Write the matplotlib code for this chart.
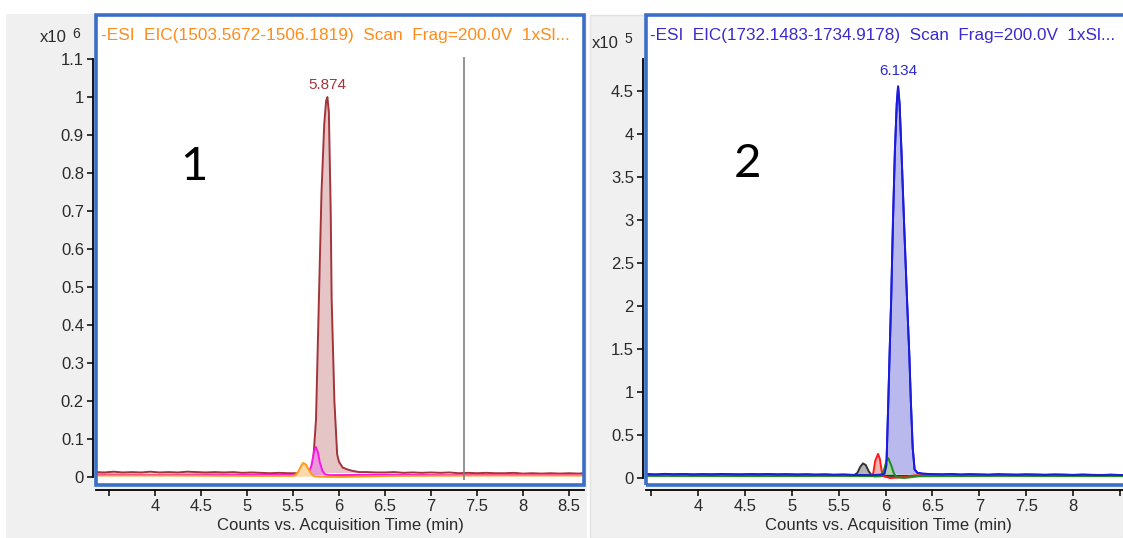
import matplotlib.pyplot as plt
from matplotlib.patches import Rectangle

plt.rcParams['font.family'] = ['Liberation Sans', 'DejaVu Sans']

# ---- panel 1: EIC 1503.5672-1506.1819 (x10^6 counts) ----
p1_title = "-ESI  EIC(1503.5672-1506.1819)  Scan  Frag=200.0V  1xSl..."
p1_peak_rt = 5.874
p1_peak_height = 1.0
p1_marker_rt = 7.36

brown_t = [3.36, 3.45, 3.55, 3.65, 3.75, 3.85, 3.95, 4.05, 4.15, 4.25, 4.35, 4.45,
           4.55, 4.65, 4.75, 4.85, 4.95, 5.05, 5.15, 5.25, 5.35, 5.45, 5.55, 5.62,
           5.67, 5.70, 5.72, 5.75, 5.78, 5.81, 5.84, 5.86, p1_peak_rt, 5.89, 5.91,
           5.92, 5.95, 5.98, 6.00, 6.04, 6.09, 6.15, 6.22, 6.30, 6.40, 6.50, 6.60,
           6.70, 6.80, 6.90, 7.00, 7.10, 7.20, 7.30, 7.40, 7.50, 7.60, 7.70, 7.80,
           7.90, 8.00, 8.10, 8.20, 8.30, 8.40, 8.50, 8.60, 8.66]
brown_y = [0.013, 0.012, 0.014, 0.012, 0.013, 0.012, 0.014, 0.012, 0.013, 0.012, 0.014, 0.013,
           0.012, 0.013, 0.012, 0.013, 0.011, 0.012, 0.011, 0.010, 0.011, 0.010, 0.010, 0.011,
           0.012, 0.020, 0.045, 0.150, 0.450, 0.750, 0.930, 0.990, p1_peak_height, 0.960, 0.700,
           0.470, 0.200, 0.060, 0.040, 0.025, 0.020, 0.016, 0.013, 0.013, 0.012, 0.012, 0.013,
           0.011, 0.012, 0.011, 0.012, 0.011, 0.012, 0.010, 0.011, 0.010, 0.011, 0.010, 0.010,
           0.011, 0.009, 0.010, 0.009, 0.010, 0.009, 0.010, 0.009, 0.010]
brown_int = (5.67, 6.22)

magenta_t = [3.36, 4.0, 4.6, 5.2, 5.60, 5.66, 5.70, 5.73, 5.75, 5.77, 5.79, 5.82,
             5.85, 5.90, 6.5, 7.2, 8.0, 8.66]
magenta_y = [0.007, 0.006, 0.007, 0.006, 0.005, 0.006, 0.030, 0.068, 0.079, 0.066, 0.040, 0.016,
             0.007, 0.005, 0.006, 0.005, 0.006, 0.005]
magenta_int = (5.66, 5.87)

orange_t = [3.36, 4.2, 5.0, 5.50, 5.53, 5.56, 5.59, 5.61, 5.64, 5.67, 5.70, 5.73,
            5.8, 6.0, 6.2, 6.6, 7.5, 8.66]
orange_y = [0.004, 0.004, 0.003, 0.003, 0.006, 0.015, 0.030, 0.037, 0.033, 0.020, 0.008, 0.002,
            0.001, 0.000, 0.001, 0.003, 0.004, 0.004]
orange_int = (5.50, 5.73)

p1_yticks = [0, 0.1, 0.2, 0.3, 0.4, 0.5, 0.6, 0.7, 0.8, 0.9, 1.0, 1.1]
p1_ylabels = ['0', '0.1', '0.2', '0.3', '0.4', '0.5', '0.6', '0.7', '0.8', '0.9', '1', '1.1']
p1_xticks = [3.5, 4, 4.5, 5, 5.5, 6, 6.5, 7, 7.5, 8, 8.5]
p1_xlabels = ['', '4', '4.5', '5', '5.5', '6', '6.5', '7', '7.5', '8', '8.5']

# ---- panel 2: EIC 1732.1483-1734.9178 (x10^5 counts) ----
p2_title = "-ESI  EIC(1732.1483-1734.9178)  Scan  Frag=200.0V  1xSl..."
p2_peak_rt = 6.134
p2_peak_height = 4.55

blue_t = [3.45, 3.55, 3.65, 3.75, 3.85, 3.95, 4.05, 4.15, 4.25, 4.35, 4.45, 4.55,
          4.65, 4.75, 4.85, 4.95, 5.05, 5.15, 5.25, 5.35, 5.45, 5.55, 5.65, 5.75,
          5.85, 5.95, 5.99, 6.01, 6.03, 6.045, 6.06, 6.08, 6.10, 6.12, p2_peak_rt,
          6.15, 6.17, 6.20, 6.23, 6.255, 6.27, 6.29, 6.31, 6.34, 6.40, 6.50, 6.60,
          6.70, 6.80, 6.90, 7.00, 7.10, 7.20, 7.30, 7.40, 7.50, 7.60, 7.70, 7.80,
          7.90, 8.00, 8.10, 8.20, 8.30, 8.40, 8.50, 8.61]
blue_y = [0.045, 0.040, 0.048, 0.042, 0.046, 0.040, 0.044, 0.041, 0.047, 0.043, 0.040, 0.045,
          0.042, 0.046, 0.040, 0.043, 0.039, 0.042, 0.038, 0.041, 0.037, 0.040, 0.036, 0.035,
          0.033, 0.040, 0.050, 0.150, 0.900, 1.500, 2.060, 3.000, 3.800, 4.350, p2_peak_height,
          4.350, 3.800, 2.900, 2.060, 1.400, 0.900, 0.350, 0.100, 0.060, 0.050, 0.045, 0.042,
          0.046, 0.040, 0.044, 0.041, 0.038, 0.043, 0.040, 0.037, 0.041, 0.039, 0.036, 0.040,
          0.038, 0.035, 0.039, 0.036, 0.034, 0.038, 0.035, 0.036]
blue_int = (5.99, 6.34)

black_t = [3.45, 4.5, 5.5, 5.66, 5.70, 5.73, 5.76, 5.79, 5.82, 5.85, 5.88, 6.0, 7.0, 8.61]
black_y = [0.030, 0.028, 0.030, 0.030, 0.060, 0.130, 0.170, 0.150, 0.080, 0.035, 0.020, 0.025, 0.030, 0.028]
black_int = (5.68, 5.86)

red_t = [3.45, 4.8, 5.6, 5.85, 5.87, 5.89, 5.92, 5.94, 5.96, 5.98, 6.05, 6.2, 6.3, 7.4, 8.61]
red_y = [0.040, 0.045, 0.035, 0.030, 0.060, 0.200, 0.280, 0.220, 0.080, 0.020, 0.000, 0.010, 0.030, 0.040, 0.035]
red_int = (5.86, 5.98)

green_t = [3.45, 4.6, 5.5, 5.95, 5.98, 6.01, 6.03, 6.06, 6.09, 6.12, 6.2, 6.35, 7.2, 8.61]
green_y = [0.025, 0.022, 0.025, 0.020, 0.080, 0.200, 0.230, 0.150, 0.050, 0.010, 0.000, 0.020, 0.025, 0.022]
green_int = (5.97, 6.12)

p2_yticks = [0, 0.5, 1, 1.5, 2, 2.5, 3, 3.5, 4, 4.5]
p2_ylabels = ['0', '0.5', '1', '1.5', '2', '2.5', '3', '3.5', '4', '4.5']
p2_xticks = [3.5, 4, 4.5, 5, 5.5, 6, 6.5, 7, 7.5, 8, 8.5]
p2_xlabels = ['', '4', '4.5', '5', '5.5', '6', '6.5', '7', '7.5', '8', '']

box_blue = '#3a6fc8'
bg_gray = '#f0f0f0'

fig = plt.figure(figsize=(11.23, 5.38), dpi=100)
fig.patch.set_facecolor('white')
W, H = 1123, 538

# gray window panels behind each chart
fig.patches.append(Rectangle((6 / W, 0), (587 - 6) / W, (538 - 14) / H,
                             transform=fig.transFigure, facecolor=bg_gray, edgecolor='none',
                             zorder=-10))
fig.patches.append(Rectangle((590 / W, 0), (1123 - 590) / W, (538 - 15) / H,
                             transform=fig.transFigure, facecolor=bg_gray, edgecolor='#e2e2e2',
                             linewidth=1, zorder=-10))


def make_axes(x0, x1, y_top, y_bot):
    return fig.add_axes([x0 / W, (H - y_bot) / H, (x1 - x0) / W, (y_bot - y_top) / H])


def trace(ax, t, y, color, fill, span, z):
    lo, hi = span
    tt = [a for a in t if lo <= a <= hi]
    yy = [b for a, b in zip(t, y) if lo <= a <= hi]
    base = min(yy[0], yy[-1])
    ax.fill_between(tt, base, yy, color=fill, linewidth=0, zorder=z)
    ax.plot(t, y, color=color, linewidth=1.4, zorder=z + 0.5)


def style(ax, xlim, ylim, ytop, xticks, xlabels, yticks, ylabels):
    ax.set_xlim(*xlim)
    ax.set_ylim(*ylim)
    ax.set_facecolor('white')
    for side in ['top', 'right']:
        ax.spines[side].set_visible(False)
    ax.spines['left'].set_position(('outward', 2.2))
    ax.spines['left'].set_bounds(0, ytop)
    ax.spines['bottom'].set_position(('outward', 3.4))
    ax.spines['left'].set_linewidth(1.3)
    ax.spines['bottom'].set_linewidth(1.3)
    ax.add_patch(Rectangle((0, 0), 1, 1, transform=ax.transAxes, fill=False,
                           edgecolor=box_blue, linewidth=2.6, clip_on=False, zorder=10))
    ax.set_xticks(xticks)
    ax.set_xticklabels(xlabels)
    ax.set_yticks(yticks)
    ax.set_yticklabels(ylabels)
    ax.tick_params(direction='out', length=4.5, width=1.1, labelsize=12,
                   labelcolor='#2a2a2a', pad=2)
    ax.set_xlabel("Counts vs. Acquisition Time (min)", fontsize=12, color='#2a2a2a', labelpad=3)


# ---- left chart ----
ax1 = make_axes(96, 584, 15, 485)
style(ax1, (3.359, 8.663), (-0.021, 1.216), 1.1, p1_xticks, p1_xlabels, p1_yticks, p1_ylabels)
trace(ax1, brown_t, brown_y, '#a3343a', '#e6c5c7', brown_int, 2)
trace(ax1, magenta_t, magenta_y, '#ff14e6', '#e79ad8', magenta_int, 3)
trace(ax1, orange_t, orange_y, '#ff9a1a', '#fcd9a8', orange_int, 4)
ax1.vlines(p1_marker_rt, -0.008, 1.105, color='#808080', linewidth=1.2, zorder=6)
ax1.annotate(f"{p1_peak_rt:.3f}", (p1_peak_rt, p1_peak_height), xytext=(0, 9),
             textcoords='offset points', ha='center', va='center', fontsize=11, color='#a3343a')
ax1.text(0.01, 0.957, p1_title, transform=ax1.transAxes, ha='left', va='center',
         fontsize=12.4, color='#ff8c1a')
ax1.text(0.2, 0.676, "1", transform=ax1.transAxes, ha='center', va='center',
         fontsize=34, family=['Lato', 'DejaVu Sans'], color='black')
fig.text(40 / W, 1 - 38 / H, "x10", fontsize=12, color='#2a2a2a', ha='left', va='center')
fig.text(72 / W, 1 - 34 / H, "6", fontsize=10, color='#2a2a2a', ha='left', va='center')

# ---- right chart ----
ax2 = make_axes(646, 1130, 15, 485)
style(ax2, (3.445, 8.608), (-0.081, 5.38), 4.87, p2_xticks, p2_xlabels, p2_yticks, p2_ylabels)
trace(ax2, blue_t, blue_y, '#1c1cdc', '#b9b9ee', blue_int, 2)
trace(ax2, black_t, black_y, '#333333', '#b4b4b4', black_int, 3)
trace(ax2, red_t, red_y, '#ff1a1a', '#f6b3b3', red_int, 3.2)
trace(ax2, green_t, green_y, '#1e8c1e', '#a9d3a9', green_int, 3.4)
ax2.plot(blue_t, blue_y, color='#1c1cdc', linewidth=1.4, zorder=5)
ax2.annotate(f"{p2_peak_rt:.3f}", (p2_peak_rt, p2_peak_height), xytext=(0, 11),
             textcoords='offset points', ha='center', va='center', fontsize=11, color='#2a2ad0')
ax2.text(0.008, 0.957, p2_title, transform=ax2.transAxes, ha='left', va='center',
         fontsize=12.3, color='#3a2ad0')
ax2.text(0.21, 0.683, "2", transform=ax2.transAxes, ha='center', va='center',
         fontsize=34, family=['Lato', 'DejaVu Sans'], color='black')
fig.text(592 / W, 1 - 43 / H, "x10", fontsize=12, color='#2a2a2a', ha='left', va='center')
fig.text(624 / W, 1 - 39 / H, "5", fontsize=10, color='#2a2a2a', ha='left', va='center')

fig.savefig("out.png", dpi=100)
